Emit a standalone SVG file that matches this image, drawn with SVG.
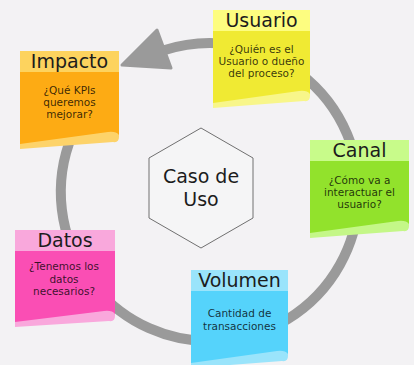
<svg xmlns="http://www.w3.org/2000/svg" width="414" height="365" viewBox="0 0 414 365">
  <style>
    .t { font-family: "DejaVu Sans", "Liberation Sans", sans-serif; font-size: 19px; fill: #1c1c1c; text-anchor: middle; }
    .b { font-family: "DejaVu Sans", "Liberation Sans", sans-serif; font-size: 10.5px; fill: #000; fill-opacity: 0.78; text-anchor: middle; }
    .ring { fill: none; stroke: #9a9a9a; stroke-width: 10; }
    .head { fill: #9a9a9a; stroke: #9a9a9a; stroke-width: 3; stroke-linejoin: round; }
    .hex { fill: #f5f5f6; stroke: #707070; stroke-width: 1; }
  </style>
  <rect x="0" y="0" width="414" height="365" fill="#f3f2f4"/>

  <g id="connectors">
    <path class="ring" d="M164,50.3 A149,149 0 1 1 104.6,86.6"/>
    <polygon class="head" points="122,65 157,30 171,68"/>
  </g>

  <g id="caso-de-uso">
    <polygon class="hex" points="201,128 253,158 253,218 201,248 149,218 149,158"/>
    <text class="t" x="201" y="183">Caso de</text>
    <text class="t" x="201" y="206">Uso</text>
  </g>

  <g id="impacto" transform="translate(20,51)">
    <path d="M0,0 H99 V86 Q99,92 93,91 L0,98 Z" fill="#fdd36a"/>
    <path d="M0,21 H99 V84 Q96,80 88,81 L0,93 Z" fill="#fdab14"/>
    <rect x="0" y="0" width="99" height="21" fill="#fdd35e"/>
    <text class="t" x="49.5" y="17">Impacto</text>
    <text class="b" x="49.5" y="43">¿Qué KPIs</text>
    <text class="b" x="49.5" y="55">queremos</text>
    <text class="b" x="49.5" y="67">mejorar?</text>
  </g>

  <g id="usuario" transform="translate(213,10)">
    <path d="M0,0 H97 V86 Q97,92 91,91 L0,98 Z" fill="#f8f68a"/>
    <path d="M0,21 H97 V84 Q94,80 86,81 L0,93 Z" fill="#f0ea33"/>
    <rect x="0" y="0" width="97" height="21" fill="#fdfd80"/>
    <text class="t" x="48.5" y="17">Usuario</text>
    <text class="b" x="48.5" y="43">¿Quién es el</text>
    <text class="b" x="48.5" y="55">Usuario o dueño</text>
    <text class="b" x="48.5" y="67">del proceso?</text>
  </g>

  <g id="canal" transform="translate(310,140)">
    <path d="M0,0 H99 V86 Q99,92 93,91 L0,98 Z" fill="#c4f788"/>
    <path d="M0,21 H99 V84 Q96,80 88,81 L0,93 Z" fill="#92e22c"/>
    <rect x="0" y="0" width="99" height="21" fill="#c8fb8a"/>
    <text class="t" x="49.5" y="17">Canal</text>
    <text class="b" x="49.5" y="44">¿Cómo va a</text>
    <text class="b" x="49.5" y="56">interactuar el</text>
    <text class="b" x="49.5" y="68">usuario?</text>
  </g>

  <g id="datos" transform="translate(15,230)">
    <path d="M0,0 H100 V86 Q100,92 94,91 L0,97 Z" fill="#f9a8dc"/>
    <path d="M0,21 H100 V84 Q97,80 89,81 L0,92 Z" fill="#fa4eb4"/>
    <rect x="0" y="0" width="100" height="21" fill="#f9a8dc"/>
    <text class="t" x="50" y="17">Datos</text>
    <text class="b" x="49" y="40">¿Tenemos los</text>
    <text class="b" x="49" y="52.5">datos</text>
    <text class="b" x="49" y="65">necesarios?</text>
  </g>

  <g id="volumen" transform="translate(191,270)">
    <path d="M0,0 H97 V86 Q97,92 91,91 L0,98 Z" fill="#9ae4fb"/>
    <path d="M0,21 H97 V84 Q94,80 86,81 L0,93 Z" fill="#55d3fb"/>
    <rect x="0" y="0" width="97" height="21" fill="#9ae4fb"/>
    <text class="t" x="48.5" y="17">Volumen</text>
    <text class="b" x="48.5" y="47">Cantidad de</text>
    <text class="b" x="48.5" y="60">transacciones</text>
  </g>
</svg>
